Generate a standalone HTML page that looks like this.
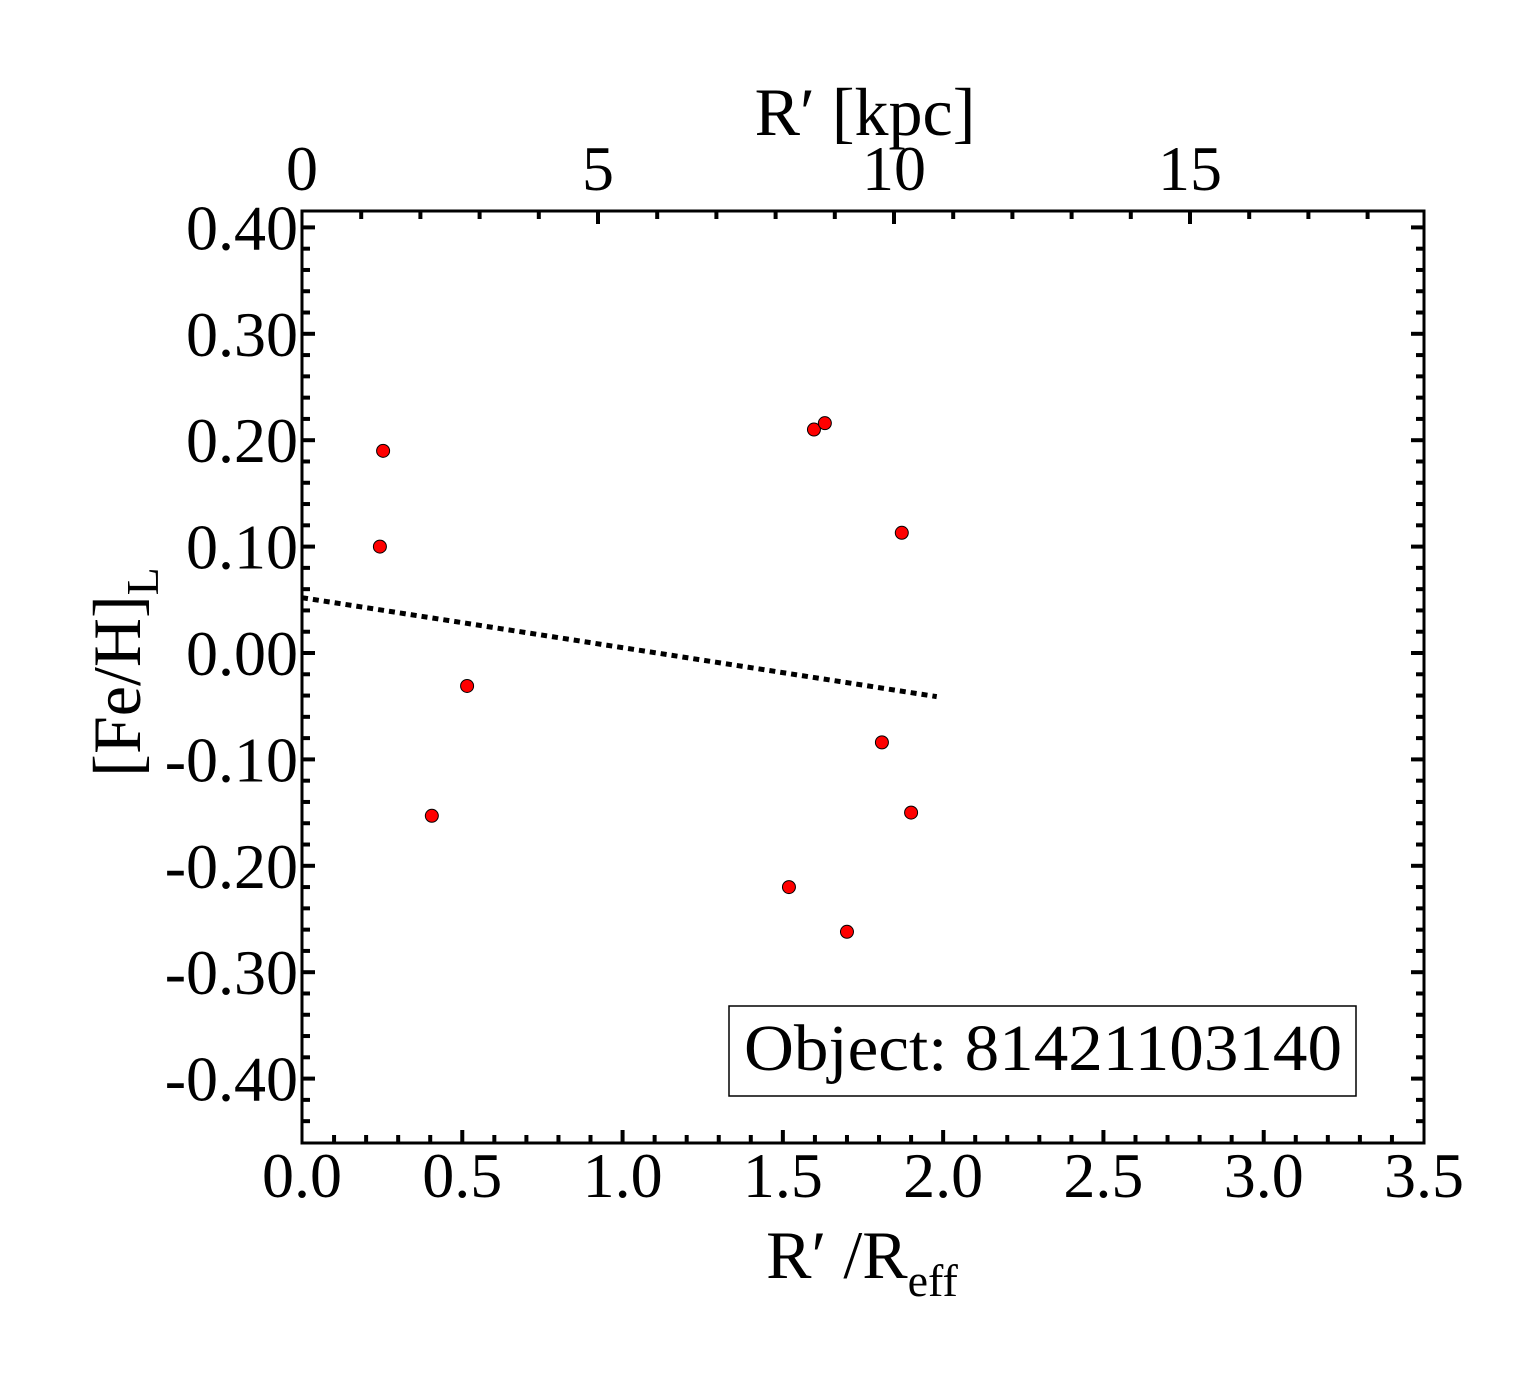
<!DOCTYPE html>
<html><head><meta charset="utf-8"><style>
html,body{margin:0;padding:0;background:#fff}
svg text{font-family:"Liberation Serif",serif;fill:#000}
</style></head><body>
<svg id="chart" width="1540" height="1375" xmlns="http://www.w3.org/2000/svg">
<g id="ticks"></g>
<g id="labels"></g>
<g id="fit"></g>
<g id="pts"></g>
<rect x="302" y="211" width="1122" height="932" fill="none" stroke="#000" stroke-width="3"/>
<text x="862" y="1278" font-size="68" text-anchor="middle">R′ /R<tspan font-size="46" dy="18">eff</tspan></text>
<text x="865" y="135" font-size="68" text-anchor="middle">R′ [kpc]</text>
<text transform="translate(140,672) rotate(-90)" font-size="68" text-anchor="middle">[Fe/H]<tspan font-size="46" dy="18">L</tspan></text>
<g>
<rect x="729" y="1006" width="627" height="90" fill="#fff" stroke="#000" stroke-width="1.5"/>
<text x="1043" y="1070" font-size="66" text-anchor="middle" textLength="598" lengthAdjust="spacingAndGlyphs">Object: 81421103140</text>
</g>
</svg>
<script>
const xVals=[0.253,0.243,0.515,0.405,1.597,1.631,1.871,1.809,1.900,1.519,1.700];
const yVals=[0.190,0.100,-0.031,-0.153,0.210,0.216,0.113,-0.084,-0.150,-0.220,-0.262];
const fitX=[0,1.98];
const fitY=[0.052,-0.041];
const xTickLabels=["0.0","0.5","1.0","1.5","2.0","2.5","3.0","3.5"];
const yTickLabels=["0.40","0.30","0.20","0.10","0.00","-0.10","-0.20","-0.30","-0.40"];
const topTickLabels=["0","5","10","15"];
const L=302,R=1424,T=211,B=1143;
const X=v=>L+v*(R-L)/3.5;
const Y=v=>653-v*1064;
const K=v=>L+v*59.2;
const NS="http://www.w3.org/2000/svg";
function mk(tag,parent,attrs){const e=document.createElementNS(NS,tag);for(const k in attrs)e.setAttribute(k,attrs[k]);document.getElementById(parent).appendChild(e);return e;}
for(let i=1;i<35;i++){const v=i/10;const maj=i%5===0;const len=maj?13:8;
 const t=mk('line','ticks',{x1:X(v),x2:X(v),y1:B,y2:B-len,stroke:'#000','stroke-width':4});
 
 }
for(let i=1;i<19;i++){const maj=i%5===0;const len=maj?13:8;
 const t=mk('line','ticks',{x1:K(i),x2:K(i),y1:T,y2:T+len,stroke:'#000','stroke-width':4});
 
 }
for(let i=-23;i<=20;i++){const v=i*0.02;const yy=Y(v);if(yy<T+2||yy>B-2)continue;const maj=i%5===0;const len=maj?13:8;
 const a=mk('line','ticks',{x1:L,x2:L+len,y1:yy,y2:yy,stroke:'#000','stroke-width':4});
 
 
 const b=mk('line','ticks',{x1:R,x2:R-len,y1:yy,y2:yy,stroke:'#000','stroke-width':4});
 
 }
xTickLabels.forEach((s,i)=>{const t=mk('text','labels',{x:X(i*0.5),y:1197,'font-size':64,'text-anchor':'middle'});t.textContent=s;
 
 });
topTickLabels.forEach((s,i)=>{const t=mk('text','labels',{x:K(i*5),y:190,'font-size':64,'text-anchor':'middle'});t.textContent=s;
 
 });
yTickLabels.forEach((s,i)=>{const v=0.4-i*0.1;const t=mk('text','labels',{x:298,y:Y(v)+22,'font-size':64,'text-anchor':'end'});t.textContent=s;
 
 });
const ln=mk('line','fit',{x1:X(fitX[0]),y1:Y(fitY[0]),x2:X(fitX[1]),y2:Y(fitY[1]),stroke:'#000','stroke-width':5,'stroke-dasharray':'6 5'});


xVals.forEach((x,i)=>{const c=mk('circle','pts',{cx:X(x),cy:Y(yVals[i]),r:6.5,fill:'#ff0000',stroke:'#000','stroke-width':1});
 
 });
</script>
</body></html>
